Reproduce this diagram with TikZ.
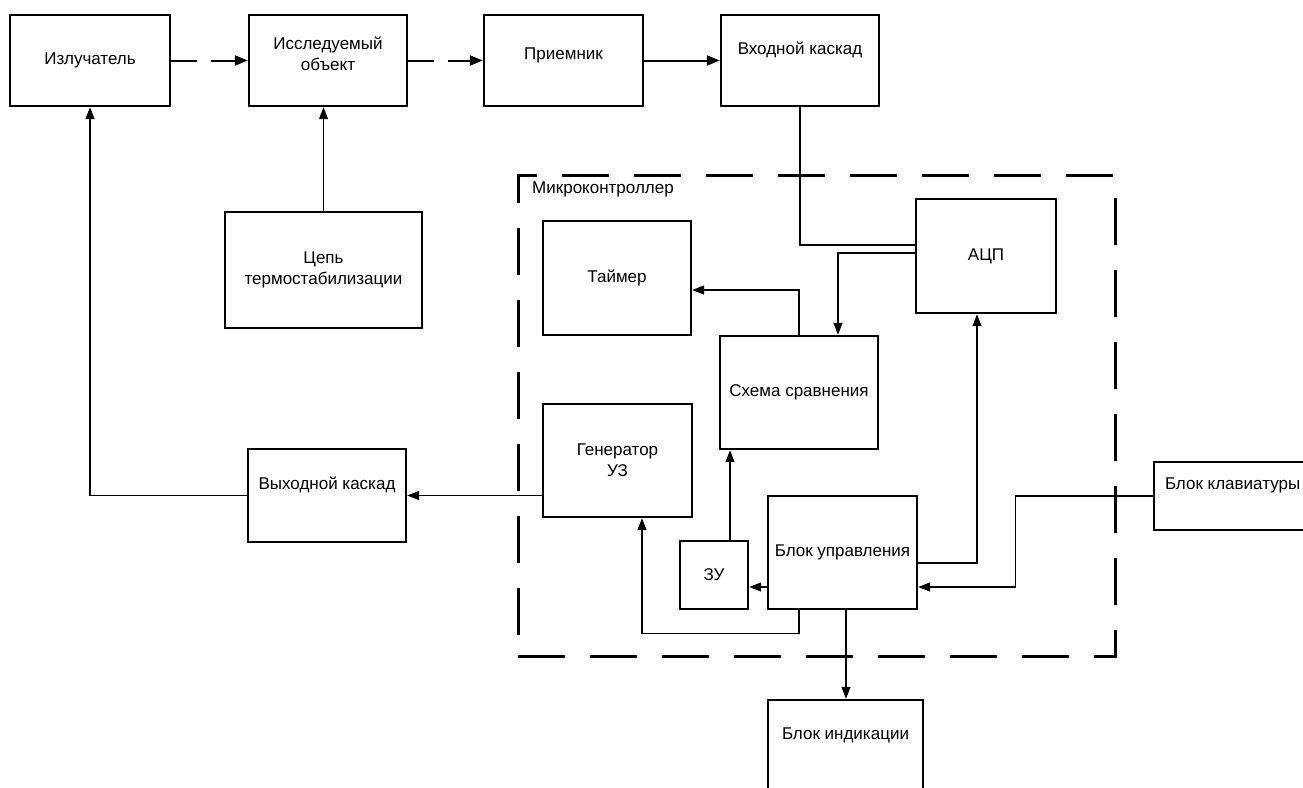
\documentclass[tikz,border=0pt]{standalone}
\usepackage{fontspec}
\setmainfont{Liberation Sans}
\usetikzlibrary{arrows.meta}
\begin{document}
\begin{tikzpicture}[x=1pt,y=-1pt,
  txt/.style={font=\fontsize{17}{21}\selectfont, align=center, inner sep=0pt},
  box/.style={draw, line width=2.4pt, fill=white, inner sep=0pt, txt},
  lbl/.style={txt},
  conn/.style={line width=1.2pt, -{Triangle[length=12pt,width=9pt]}},
  thick conn/.style={line width=2pt, -{Triangle[length=13pt,width=10pt]}},
  dconn/.style={thick conn, dash pattern=on 26pt off 14pt},
  wire/.style={line width=1.2pt},
  mcborder/.style={line width=3pt, dash pattern=on 47pt off 25pt}]
\useasboundingbox (0,0) rectangle (1303,787);
\clip (0,0) rectangle (1303,787);
\fill[white] (0,0) rectangle (1303,787);

% microcontroller border
\draw[mcborder] (518,656) -- (1115,656) -- (1115,175) -- (518,175) -- cycle;
\node[txt, anchor=west] (mk) at (532,189) {Микроконтроллер};

% boxes
\node[box, minimum width=160pt, minimum height=91pt] (izl) at (90,60.5) {Излучатель};
\node[box, minimum width=158pt, minimum height=91pt,
      label={[lbl,yshift=7pt]center:Исследуемый\\объект}] (iss) at (328,60.5) {};
\node[box, minimum width=159pt, minimum height=91pt,
      label={[lbl,yshift=5pt]center:Приемник}] (pri) at (563.5,60.5) {};
\node[box, minimum width=158pt, minimum height=91pt,
      label={[lbl,yshift=11pt]center:Входной каскад}] (vk) at (800,60.5) {};
\node[box, minimum width=197pt, minimum height=116pt] (cep) at (323.5,270) {Цепь\\термостабилизации};
\node[box, minimum width=158pt, minimum height=93pt,
      label={[lbl,yshift=11pt]center:Выходной каскад}] (vyh) at (327,495.5) {};
\node[box, minimum width=148pt, minimum height=114pt] (tim) at (617,278) {Таймер};
\node[box, minimum width=140pt, minimum height=114pt] (adc) at (986,256) {АЦП};
\node[box, minimum width=158pt, minimum height=113pt] (sch) at (799,392.5) {Схема сравнения};
\node[box, minimum width=149pt, minimum height=113pt] (gen) at (617.5,460.5) {Генератор\\УЗ};
\node[box, minimum width=68pt, minimum height=68pt] (zu) at (714,575) {ЗУ};
\node[box, minimum width=149pt, minimum height=113pt] (bu) at (842.5,552.5) {Блок управления};
\node[box, minimum width=170pt, minimum height=68pt,
      label={[lbl,anchor=west,xshift=12pt,yshift=11pt]west:Блок клавиатуры}] (bk) at (1239,496) {};
\node[box, minimum width=155pt, minimum height=120pt,
      label={[lbl,yshift=25pt]center:Блок индикации}] (bi) at (845.5,760) {};

% connectors
\draw[dconn] (izl.east) -- (iss.west);
\draw[dconn] (iss.east) -- (pri.west);
\draw[thick conn] (pri.east) -- (vk.west);
\draw[conn] (cep.north) -- (cep.north |- iss.south);
\draw[conn] (vyh.west) -| (izl.south);
\draw[conn] (gen.west |- vyh.east) -- (vyh.east);
\draw[wire] (vk.south) |- ([yshift=11pt]adc.west);
\draw[conn] ([yshift=3pt]adc.west) -| ([xshift=39pt]sch.north);
\draw[conn] (sch.north) |- ([yshift=-12pt]tim.east);
\draw[conn] ([xshift=16pt]zu.north) -- ([xshift=16pt]zu.north |- sch.south);
\draw[conn] ([yshift=-34.5pt]bu.west) -- ([yshift=-34.5pt]bu.west -| zu.east);
\draw[conn] ([xshift=-43.5pt]bu.south) -- ++(0,23) -| ([xshift=24.5pt]gen.south);
\draw[conn] ([xshift=3.5pt]bu.south) -- ([xshift=3.5pt]bu.south |- bi.north);
\draw[conn] ([yshift=-10.5pt]bu.east) -| ([xshift=-9pt]adc.south);
\draw[conn] (bk.west) -- ++(-137,0) |- ([yshift=-34.5pt]bu.east);
\end{tikzpicture}
\end{document}
